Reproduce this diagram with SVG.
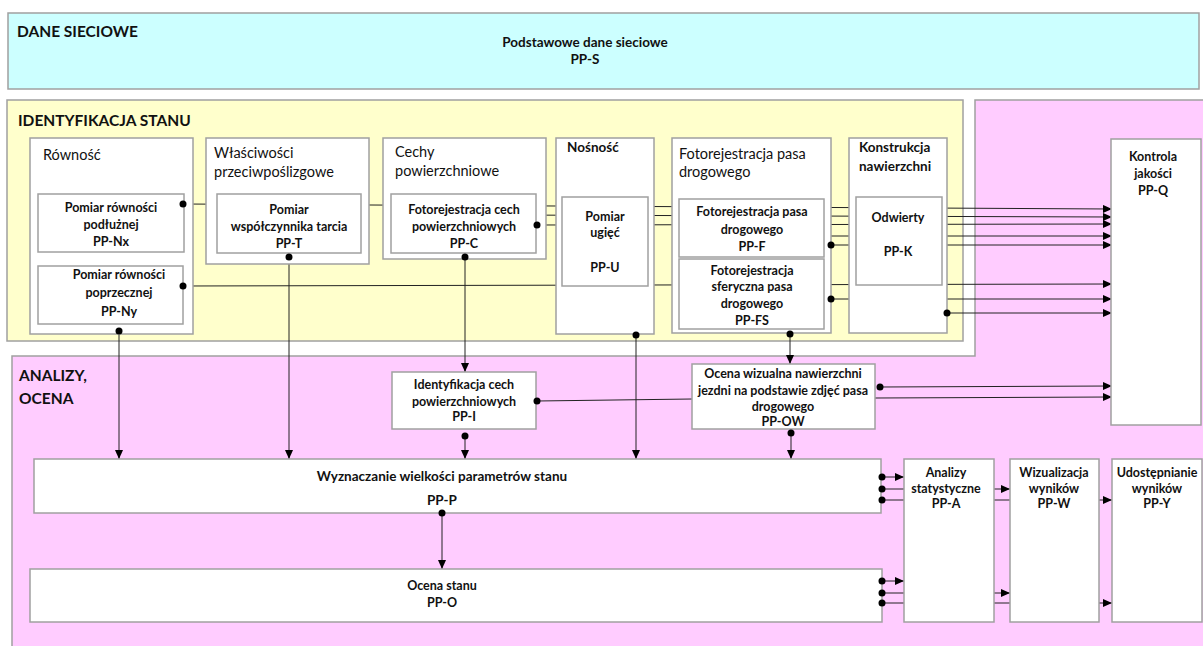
<svg xmlns="http://www.w3.org/2000/svg" width="1203" height="646" viewBox="0 0 1203 646">
<style>
text{font-family:Lato,"Liberation Sans",sans-serif;fill:#111}
.sec{font-size:15.5px;font-weight:bold}
.hdr{font-size:14.5px}
.hdrb{font-size:13.5px;font-weight:bold}
.lbl{font-size:12.5px;font-weight:bold;text-anchor:middle}
.lblb{font-size:13.5px;font-weight:bold;text-anchor:middle}
.box{fill:#fff;stroke:#a0a0a0;stroke-width:1.5}
.cn{stroke:#222;stroke-width:1;fill:none}
.dot{fill:#000}
</style>
<defs>
<marker id="arr" markerWidth="9" markerHeight="8" refX="9" refY="4" orient="auto" markerUnits="userSpaceOnUse">
<path d="M0,0 L9,4 L0,8 z" fill="#000"/>
</marker>
</defs>

<g id="sections">
<rect x="8" y="13" width="1191" height="76" fill="#ccffff" stroke="#a0a0a0" stroke-width="1.5"/>
<rect x="7" y="100" width="956" height="241" fill="#ffffcc" stroke="#a0a0a0" stroke-width="1.5"/>
<path d="M975,100 H1204 V647 H12 V356 H975 Z" fill="#ffccff" stroke="#a0a0a0" stroke-width="1.5"/>
<text class="sec" x="17" y="37">DANE SIECIOWE</text>
<text class="lblb" x="585" y="47">Podstawowe dane sieciowe</text>
<text class="lblb" x="585" y="64">PP-S</text>
<text class="sec" x="18" y="126">IDENTYFIKACJA STANU</text>
<text class="sec" x="19" y="381">ANALIZY,</text>
<text class="sec" x="19" y="404">OCENA</text>
</g>

<g id="connectors">
<line class="cn" x1="183" y1="204" x2="1112" y2="209" marker-end="url(#arr)"/>
<line class="cn" x1="500" y1="215" x2="1112" y2="217" marker-end="url(#arr)"/>
<line class="cn" x1="537" y1="225" x2="1112" y2="224" marker-end="url(#arr)"/>
<line class="cn" x1="760" y1="236" x2="1112" y2="236" marker-end="url(#arr)"/>
<line class="cn" x1="831" y1="245" x2="1112" y2="245" marker-end="url(#arr)"/>
<line class="cn" x1="183" y1="286" x2="1112" y2="284" marker-end="url(#arr)"/>
<line class="cn" x1="831" y1="299" x2="1112" y2="299" marker-end="url(#arr)"/>
<line class="cn" x1="947" y1="313" x2="1112" y2="313" marker-end="url(#arr)"/>
<line class="cn" x1="880" y1="387" x2="1112" y2="386" marker-end="url(#arr)"/>
<line class="cn" x1="875" y1="398" x2="1112" y2="397" marker-end="url(#arr)"/>
<line class="cn" x1="119" y1="331" x2="119" y2="459" marker-end="url(#arr)"/>
<line class="cn" x1="289" y1="257" x2="289" y2="459" marker-end="url(#arr)"/>
<line class="cn" x1="465" y1="257" x2="465" y2="372" marker-end="url(#arr)"/>
<line class="cn" x1="636" y1="335" x2="636" y2="459" marker-end="url(#arr)"/>
<line class="cn" x1="790" y1="334" x2="790" y2="364" marker-end="url(#arr)"/>
<line class="cn" x1="465" y1="436" x2="465" y2="459" marker-end="url(#arr)"/>
<line class="cn" x1="791" y1="433" x2="791" y2="459" marker-end="url(#arr)"/>
<line class="cn" x1="537" y1="401" x2="692" y2="399"/>
<line class="cn" x1="442" y1="513" x2="442" y2="569" marker-end="url(#arr)"/>
<line class="cn" x1="882" y1="477" x2="904" y2="477" marker-end="url(#arr)"/>
<line class="cn" x1="882" y1="489" x2="1010" y2="489" marker-end="url(#arr)"/>
<line class="cn" x1="882" y1="500" x2="1112" y2="500" marker-end="url(#arr)"/>
<line class="cn" x1="882" y1="581" x2="904" y2="581" marker-end="url(#arr)"/>
<line class="cn" x1="882" y1="593" x2="1010" y2="593" marker-end="url(#arr)"/>
<line class="cn" x1="882" y1="603" x2="1112" y2="603" marker-end="url(#arr)"/>
</g>

<g id="rownosc">
<rect class="box" x="30" y="138" width="163" height="196"/>
<text class="hdr" x="43" y="160">Równość</text>
</g>
<g id="PP-Nx">
<rect class="box" x="38" y="194" width="146" height="58"/>
<text class="lbl" x="111" y="212">Pomiar równości</text>
<text class="lbl" x="111" y="229">podłużnej</text>
<text class="lbl" x="111" y="246">PP-Nx</text>
</g>
<g id="PP-Ny">
<rect class="box" x="38" y="266" width="145" height="58"/>
<text class="lbl" x="119" y="279">Pomiar równości</text>
<text class="lbl" x="119" y="297">poprzecznej</text>
<text class="lbl" x="119" y="316">PP-Ny</text>
</g>

<g id="wlasciwosci">
<rect class="box" x="206" y="138" width="163" height="126"/>
<text class="hdr" x="214" y="158">Właściwości</text>
<text class="hdr" x="214" y="177">przeciwpoślizgowe</text>
</g>
<g id="PP-T">
<rect class="box" x="217" y="194" width="144" height="59"/>
<text class="lbl" x="289" y="214">Pomiar</text>
<text class="lbl" x="289" y="231">współczynnika tarcia</text>
<text class="lbl" x="289" y="248">PP-T</text>
</g>

<g id="cechy">
<rect class="box" x="383" y="138" width="163" height="121"/>
<text class="hdr" x="395" y="157">Cechy</text>
<text class="hdr" x="395" y="176">powierzchniowe</text>
</g>
<g id="PP-C">
<rect class="box" x="391" y="194" width="145" height="59"/>
<text class="lbl" x="464" y="214">Fotorejestracja cech</text>
<text class="lbl" x="464" y="231">powierzchniowych</text>
<text class="lbl" x="464" y="248">PP-C</text>
</g>

<g id="nosnosc">
<rect class="box" x="556" y="138" width="98" height="196"/>
<text class="hdrb" x="567" y="152">Nośność</text>
</g>
<g id="PP-U">
<rect class="box" x="562" y="197" width="86" height="89"/>
<text class="lbl" x="605" y="221">Pomiar</text>
<text class="lbl" x="605" y="237">ugięć</text>
<text class="lbl" x="605" y="272">PP-U</text>
</g>

<g id="fotorejestracja">
<rect class="box" x="672" y="138" width="159" height="195"/>
<text class="hdr" x="679" y="159">Fotorejestracja pasa</text>
<text class="hdr" x="679" y="177">drogowego</text>
</g>
<g id="PP-F">
<rect class="box" x="679" y="199" width="145" height="58"/>
<text class="lbl" x="752" y="216">Fotorejestracja pasa</text>
<text class="lbl" x="752" y="234">drogowego</text>
<text class="lbl" x="752" y="251">PP-F</text>
</g>
<g id="PP-FS">
<rect class="box" x="679" y="259" width="145" height="70"/>
<text class="lbl" x="752" y="275">Fotorejestracja</text>
<text class="lbl" x="752" y="291">sferyczna pasa</text>
<text class="lbl" x="752" y="308">drogowego</text>
<text class="lbl" x="752" y="325">PP-FS</text>
</g>

<g id="konstrukcja">
<rect class="box" x="849" y="138" width="98" height="195"/>
<text class="hdrb" x="859" y="152">Konstrukcja</text>
<text class="hdrb" x="859" y="171">nawierzchni</text>
</g>
<g id="PP-K">
<rect class="box" x="856" y="197" width="86" height="88"/>
<text class="lbl" x="898" y="222">Odwierty</text>
<text class="lbl" x="898" y="256">PP-K</text>
</g>

<g id="PP-Q">
<rect class="box" x="1111" y="139" width="90" height="286"/>
<text class="lbl" x="1153" y="161">Kontrola</text>
<text class="lbl" x="1153" y="178">jakości</text>
<text class="lbl" x="1153" y="195">PP-Q</text>
</g>

<g id="PP-I">
<rect class="box" x="392" y="372" width="144" height="57"/>
<text class="lbl" x="464" y="389">Identyfikacja cech</text>
<text class="lbl" x="464" y="406">powierzchniowych</text>
<text class="lbl" x="464" y="421">PP-I</text>
</g>

<g id="PP-OW">
<rect class="box" x="692" y="364" width="183" height="65"/>
<text class="lbl" x="783" y="378">Ocena wizualna nawierzchni</text>
<text class="lbl" x="783" y="395">jezdni na podstawie zdjęć pasa</text>
<text class="lbl" x="783" y="411">drogowego</text>
<text class="lbl" x="783" y="426">PP-OW</text>
</g>

<g id="PP-P">
<rect class="box" x="34" y="459" width="847" height="54"/>
<text class="lblb" x="442" y="481">Wyznaczanie wielkości parametrów stanu</text>
<text class="lblb" x="442" y="505">PP-P</text>
</g>

<g id="PP-O">
<rect class="box" x="30" y="569" width="852" height="53"/>
<text class="lbl" x="442" y="590">Ocena stanu</text>
<text class="lbl" x="442" y="607">PP-O</text>
</g>

<g id="PP-A">
<rect class="box" x="904" y="459" width="90" height="163"/>
<text class="lbl" x="946" y="477">Analizy</text>
<text class="lbl" x="946" y="493">statystyczne</text>
<text class="lbl" x="946" y="508">PP-A</text>
</g>
<g id="PP-W">
<rect class="box" x="1010" y="459" width="89" height="163"/>
<text class="lbl" x="1054" y="477">Wizualizacja</text>
<text class="lbl" x="1054" y="493">wyników</text>
<text class="lbl" x="1054" y="508">PP-W</text>
</g>
<g id="PP-Y">
<rect class="box" x="1112" y="459" width="90" height="163"/>
<text class="lbl" x="1157" y="477">Udostępnianie</text>
<text class="lbl" x="1157" y="493">wyników</text>
<text class="lbl" x="1157" y="508">PP-Y</text>
</g>

<g id="connector-ends">
<circle class="dot" cx="183" cy="204" r="3.5"/>
<circle class="dot" cx="183" cy="286" r="3.5"/>
<circle class="dot" cx="119" cy="331" r="3.5"/>
<circle class="dot" cx="289" cy="257" r="3.5"/>
<circle class="dot" cx="537" cy="225" r="3.5"/>
<circle class="dot" cx="465" cy="257" r="3.5"/>
<circle class="dot" cx="636" cy="335" r="3.5"/>
<circle class="dot" cx="831" cy="245" r="3.5"/>
<circle class="dot" cx="831" cy="299" r="3.5"/>
<circle class="dot" cx="790" cy="334" r="3.5"/>
<circle class="dot" cx="947" cy="313" r="3.5"/>
<circle class="dot" cx="537" cy="401" r="3.5"/>
<circle class="dot" cx="465" cy="436" r="3.5"/>
<circle class="dot" cx="791" cy="433" r="3.5"/>
<circle class="dot" cx="880" cy="387" r="3.5"/>
<circle class="dot" cx="442" cy="513" r="3.5"/>
<circle class="dot" cx="882" cy="477" r="3.5"/>
<circle class="dot" cx="882" cy="489" r="3.5"/>
<circle class="dot" cx="882" cy="500" r="3.5"/>
<circle class="dot" cx="882" cy="581" r="3.5"/>
<circle class="dot" cx="882" cy="593" r="3.5"/>
<circle class="dot" cx="882" cy="603" r="3.5"/>
</g>
</svg>
